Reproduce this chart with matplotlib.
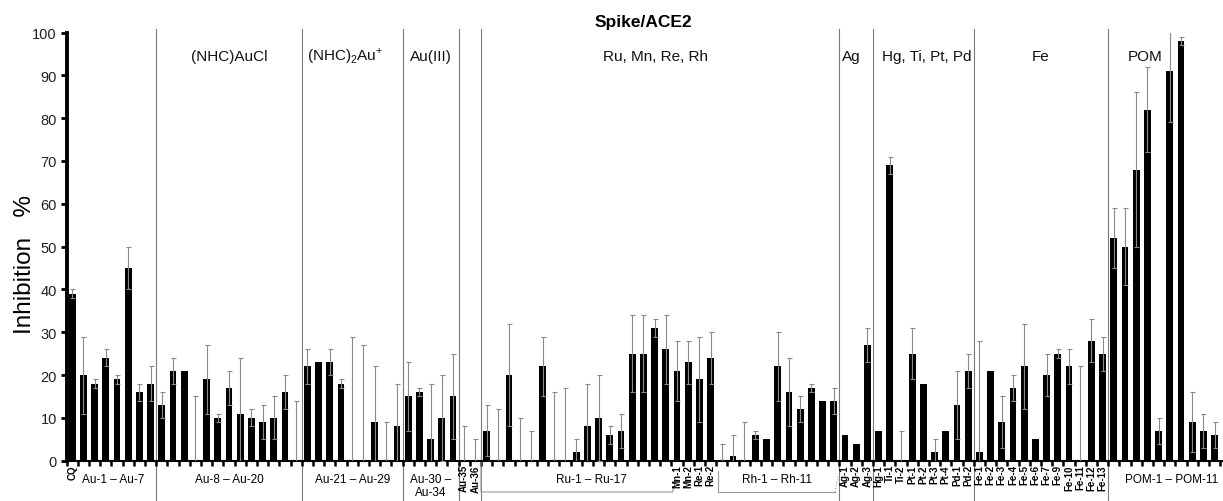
import numpy as np
import matplotlib.pyplot as plt

plt.rcParams['font.family'] = ['Liberation Sans', 'DejaVu Sans']
plt.rcParams['mathtext.fontset'] = 'custom'
plt.rcParams['mathtext.rm'] = 'Liberation Sans'

# --- data (inhibition %, error) per group ---
cq_val = [39]
cq_err = [1]
au1_val = [20, 18, 24, 19, 45, 16, 18]                          # Au-1 .. Au-7
au1_err = [9, 1, 2, 1, 5, 2, 4]
au2_val = [13, 21, 21, 0, 19, 10, 17, 11, 10, 9, 10, 16, 0]     # Au-8 .. Au-20
au2_err = [3, 3, 0, 15, 8, 1, 4, 13, 2, 4, 5, 4, 14]
au3_val = [22, 23, 23, 18, 0, 0, 9, 0, 8]                       # Au-21 .. Au-29
au3_err = [4, 0, 3, 1, 29, 27, 13, 9, 10]
au4_val = [15, 16, 5, 10, 15]                                   # Au-30 .. Au-34
au4_err = [8, 1, 13, 10, 10]
au5_val = [0, 0]                                                # Au-35, Au-36
au5_err = [8, 5]
ru_val = [7, 0, 20, 0, 0, 22, 0, 0, 2, 8, 10, 6, 7, 25, 25, 31, 26]
ru_err = [6, 12, 12, 10, 7, 7, 16, 17, 3, 10, 10, 2, 4, 9, 9, 2, 8]
mnre_val = [21, 23, 19, 24]                                     # Mn-1, Mn-2, Re-1, Re-2
mnre_err = [7, 5, 10, 6]
rh_val = [0, 1, 0, 6, 5, 22, 16, 12, 17, 14, 14]
rh_err = [4, 5, 9, 1, 0, 8, 8, 3, 1, 0, 3]
ag_val = [6, 4, 27]
ag_err = [0, 0, 4]
hgpd_val = [7, 69, 0, 25, 18, 2, 7, 13, 21]
hgpd_err = [0, 2, 7, 6, 0, 3, 0, 8, 4]
fe_val = [2, 21, 9, 17, 22, 5, 20, 25, 22, 0, 28, 25]
fe_err = [26, 0, 6, 3, 10, 0, 5, 1, 4, 22, 5, 4]
pom_val = [52, 50, 68, 82, 7, 91, 98, 9, 7, 6]
pom_err = [7, 9, 18, 10, 3, 12, 1, 7, 4, 3]

names = (["CQ"] + ["Au-%d" % i for i in range(1, 37)] + ["Ru-%d" % i for i in range(1, 18)]
         + ["Mn-1", "Mn-2", "Re-1", "Re-2"] + ["Rh-%d" % i for i in range(1, 12)]
         + ["Ag-1", "Ag-2", "Ag-3"]
         + ["Hg-1", "Ti-1", "Ti-2", "Pt-1", "Pt-2", "Pt-3", "Pt-4", "Pd-1", "Pd-2"]
         + ["Fe-%d" % i for i in [1, 2, 3, 4, 5, 6, 7, 9, 10, 11, 12, 13]]
         + ["POM-%d" % i for i in range(1, 11)])

values = (cq_val + au1_val + au2_val + au3_val + au4_val + au5_val + ru_val + mnre_val
          + rh_val + ag_val + hgpd_val + fe_val + pom_val)
errors = (cq_err + au1_err + au2_err + au3_err + au4_err + au5_err + ru_err + mnre_err
          + rh_err + ag_err + hgpd_err + fe_err + pom_err)

# group sizes between the vertical separators
group_sizes = [8, 13, 9, 5, 2, 32, 3, 9, 12, 10]

x = np.arange(len(values))
values = np.array(values, dtype=float)
errors = np.array(errors, dtype=float)

W, H = 1223, 502
fig = plt.figure(figsize=(W / 100, H / 100), dpi=100)
ax = fig.add_axes([66.6 / W, 40.3 / H, 1 - 66.6 / W, 428.2 / H])

ax.bar(x, values, width=0.6, color='black', zorder=2)
has_err = errors > 0
ax.errorbar(x[has_err], values[has_err], yerr=errors[has_err], fmt='none',
            ecolor='#8a8a8a', elinewidth=0.8, capsize=1.8, capthick=0.8, zorder=3)

ax.set_xlim(-0.5, (W - 66.6) / 11.2 - 0.5)
ax.set_ylim(0, 100)
ax.set_yticks(range(0, 101, 10))
ax.set_xticks(np.arange(-0.5, len(values) + 0.5, 1))
ax.set_xticklabels([])
ax.tick_params(axis='x', direction='out', length=3.5, width=1.8, color='black')
ax.tick_params(axis='y', direction='out', length=4, width=2, labelsize=10.5,
               labelcolor='#222222', pad=3)
for s in ['top', 'right']:
    ax.spines[s].set_visible(False)
ax.spines['left'].set_linewidth(2.8)
ax.spines['bottom'].set_linewidth(1.5)

# vertical separators between compound families
bounds = np.cumsum(group_sizes)[:-1] - 0.5
for b in bounds:
    ax.axvline(b, ymin=-0.094, ymax=1.008, color='#7a7a7a', lw=0.8,
               clip_on=False, zorder=1)

# family names at the top
top_labels = [("(NHC)AuCl", 14, 'center'),
              ("(NHC)$_\\mathrm{2}$Au$^\\mathrm{+}$", 21.0, 'left'),
              ("Au(III)", 32, 'center'),
              ("Ru, Mn, Re, Rh", 52.1, 'center'),
              ("Ag", 69.6, 'center'),
              ("Hg, Ti, Pt, Pd", 72.3, 'left'),
              ("Fe", 86.5, 'center'),
              ("POM", 95.8, 'center')]
for txt, xp, ha in top_labels:
    ax.text(xp, 94.6, txt, fontsize=11, ha=ha, va='center', color='#111111')

# range labels under the axis
range_labels = [("Au-1 \u2013 Au-7", 3.7), ("Au-8 \u2013 Au-20", 14),
                ("Au-21 \u2013 Au-29", 25), ("Au-30 \u2013\nAu-34", 32),
                ("Ru-1 \u2013 Ru-17", 46.4), ("Rh-1 \u2013 Rh-11", 62.9),
                ("POM-1 \u2013 POM-11", 98.2)]
for txt, xp in range_labels:
    ax.text(xp, -4.3 if "\n" not in txt else -5.8, txt, fontsize=8.5,
            ha='center', va='center', clip_on=False, linespacing=1.1)

# single compound labels, vertical
vert_idx = [0, 35, 36, 54, 55, 56, 57] + list(range(69, 93))
for i in vert_idx:
    ax.text(i, -0.8, names[i], rotation=90, fontsize=7, weight='bold',
            ha='center', va='top', clip_on=False)

# brackets under Ru and Rh groups
ax.plot([36.5, 36.5, 53.6, 53.8], [0, -7.3, -7.3, -5.5], color='#999999',
        lw=0.8, clip_on=False)
ax.plot([57.7, 57.7, 68.1], [-2.3, -7.3, -7.3], color='#999999', lw=0.8,
        clip_on=False)
ax.plot([68.1, 68.4], [-7.3, -3.5], color='#999999', lw=0.8, ls=':',
        clip_on=False)

fig.text(25 / W, 1 - 265 / H, "Inhibition   %", rotation=90, fontsize=17.5,
         ha='center', va='center')
fig.text(643 / W, 1 - 22 / H, "Spike/ACE2", fontsize=12.5, weight='bold',
         ha='center', va='center')

fig.savefig("out.png", dpi=100)
